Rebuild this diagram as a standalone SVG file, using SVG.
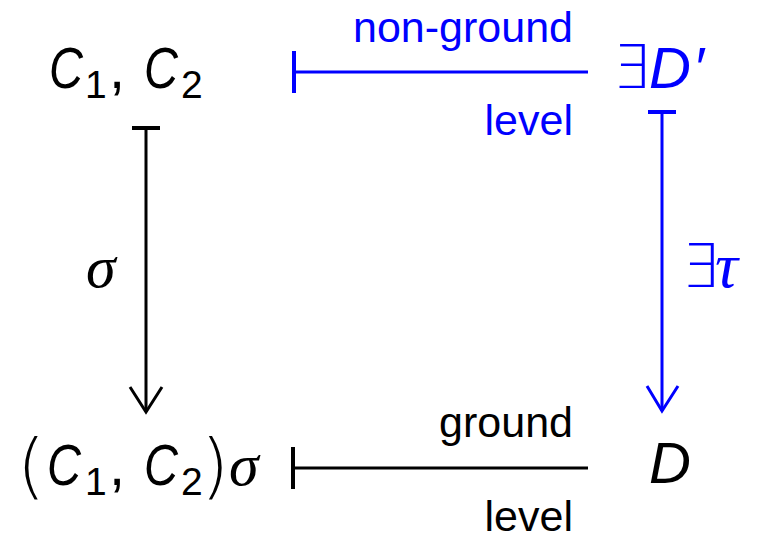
<svg xmlns="http://www.w3.org/2000/svg" width="757" height="535" viewBox="0 0 757 535">
<style>
.m{font-family:"Liberation Sans","DejaVu Sans",sans-serif;font-style:italic;font-size:58px}
.sub{font-family:"Liberation Sans","DejaVu Sans",sans-serif;font-size:39px}
.up{font-family:"Liberation Sans","DejaVu Sans",sans-serif;font-size:58px}
.par{font-family:"DejaVu Sans",sans-serif;font-weight:200;font-size:72px}
.ex{font-family:"DejaVu Sans",sans-serif;font-weight:200;font-size:60px}
.gr{font-family:"Liberation Serif","DejaVu Serif",serif;font-style:italic;font-size:60px}
.lbl{font-family:"Liberation Sans","Arial",sans-serif;font-size:43px;text-anchor:end}
.k{fill:#000}
.b{fill:#0000ff}
.ln{fill:none;stroke-width:3}
.bar{fill:none;stroke-width:4}
.ks{stroke:#000}
.bs{stroke:#0000ff}
</style>
<g id="n-c12">
<text class="m k" x="49" y="88" textLength="34" lengthAdjust="spacingAndGlyphs">C</text>
<text class="sub k" x="85" y="98">1</text>
<text class="up k" x="109" y="88">,</text>
<text class="m k" x="144" y="88" textLength="34" lengthAdjust="spacingAndGlyphs">C</text>
<text class="sub k" x="181" y="98">2</text>
</g>
<g id="n-dprime">
<text class="ex b" x="612" y="88">∃</text>
<text class="m b" x="649" y="88">D</text>
<text class="m b" x="693" y="88">′</text>
</g>
<g id="n-c12sigma">
<text class="par k" x="17" y="490">(</text>
<text class="m k" x="47" y="485" textLength="34" lengthAdjust="spacingAndGlyphs">C</text>
<text class="sub k" x="85" y="495">1</text>
<text class="up k" x="109" y="485">,</text>
<text class="m k" x="144" y="485" textLength="34" lengthAdjust="spacingAndGlyphs">C</text>
<text class="sub k" x="181" y="495">2</text>
<text class="par k" x="201" y="490">)</text>
<text class="gr k" x="229" y="485">σ</text>
</g>
<g id="n-d">
<text class="m k" x="649" y="483">D</text>
</g>
<g id="connectors">
<g id="e-top">
<path class="ln bs" d="M 294 72 L 588 72"/>
<path class="bar bs" d="M 294 51 L 294 93"/>
<text class="lbl b" x="573" y="42">non-ground</text>
<text class="lbl b" x="573" y="135">level</text>
</g>
<g id="e-bottom">
<path class="ln ks" d="M 293 468 L 588 468"/>
<path class="bar ks" d="M 293 447 L 293 489"/>
<text class="lbl k" x="573" y="437">ground</text>
<text class="lbl k" x="573" y="531">level</text>
</g>
<g id="e-left">
<path class="ln ks" d="M 146 128 L 146 412"/>
<path class="bar ks" d="M 132 128 L 160 128"/>
<path class="ln ks" d="M 130 387 L 146 412 L 162 387"/>
<text class="gr k" x="86" y="287">σ</text>
</g>
<g id="e-right">
<path class="ln bs" d="M 662 112 L 662 411"/>
<path class="bar bs" d="M 648 112 L 676 112"/>
<path class="ln bs" d="M 647 386 L 662 411 L 678 386"/>
<text class="ex b" x="681" y="287">∃</text>
<text class="gr b" x="715" y="287" style="font-size:64px">τ</text>
</g>
</g>
</svg>
